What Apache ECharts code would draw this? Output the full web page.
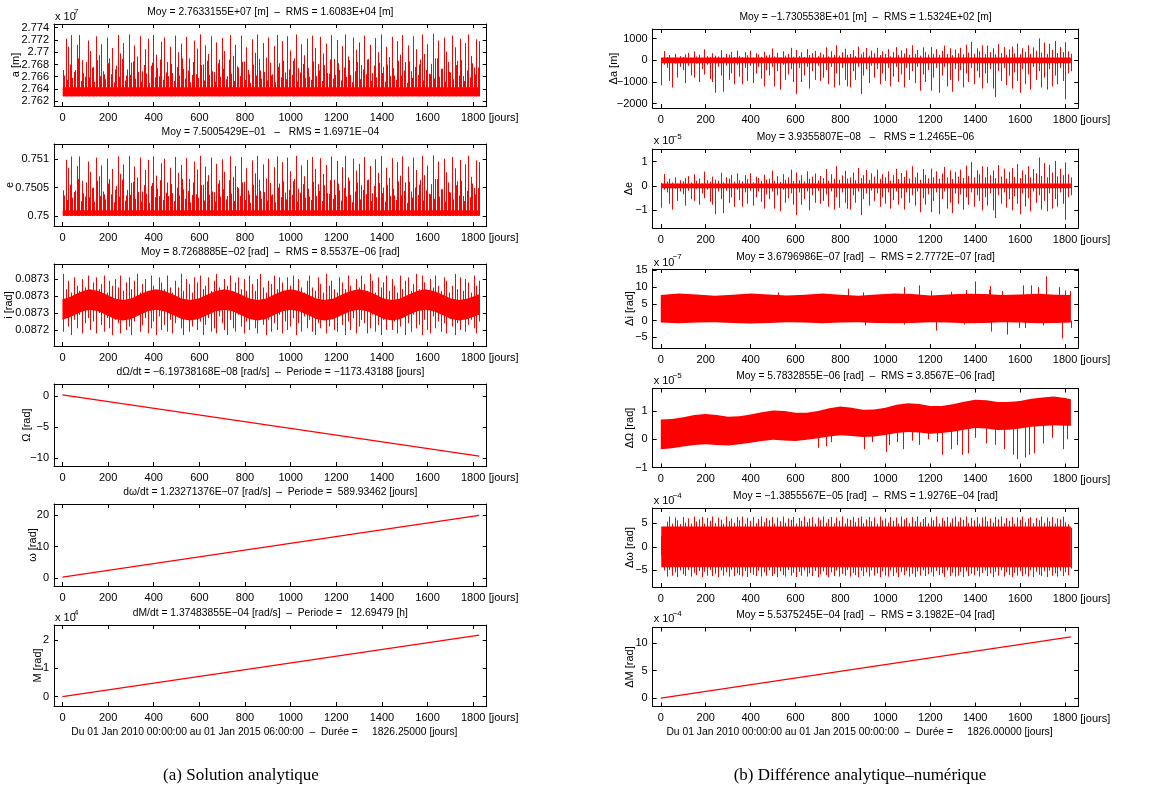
<!DOCTYPE html>
<html><head><meta charset="utf-8">
<script src="https://cdn.jsdelivr.net/npm/echarts@6/dist/echarts.min.js"></script>
<style>html,body{margin:0;padding:0;background:#fff}#c{width:1175px;height:799px}</style>
</head><body><div id="c"></div><script>
// ================= DATA =================
const xTickDays = [0,200,400,600,800,1000,1200,1400,1600,1800];
const xTickLabels = ['0','200','400','600','800','1000','1200','1400','1600','1800'];
// sampling grids (days) of the visible spikes
const spikeStart = 2, spikeStep = 12, spikeEnd = 1826;
const midStart = 8;

// ---- a [m] (x 1e7)
const aTicks = [2.762,2.764,2.766,2.768,2.770,2.772,2.774];
const aTickLabels = ['2.762','2.764','2.766','2.768','2.77','2.772','2.774'];
const aBase = 2.7628, aCoreTop = 2.7643;
const aPeaks = [
2.7671,2.7722,2.7709,2.7728,2.7668,2.7712,2.7728,2.7687,2.7660,2.7719,
2.7702,2.7676,2.7726,2.7695,2.7713,2.7664,2.7724,2.7690,2.7707,2.7672,
2.7728,2.7698,2.7715,2.7662,2.7729,2.7683,2.7711,2.7693,2.7726,2.7669,
2.7705,2.7722,2.7678,2.7728,2.7696,2.7661,2.7717,2.7724,2.7684,2.7709,
2.7666,2.7727,2.7700,2.7714,2.7673,2.7725,2.7690,2.7663,2.7719,2.7706,
2.7729,2.7680,2.7711,2.7697,2.7726,2.7668,2.7716,2.7688,2.7723,2.7702,
2.7661,2.7728,2.7694,2.7712,2.7675,2.7727,2.7685,2.7708,2.7664,2.7721,
2.7699,2.7729,2.7670,2.7715,2.7691,2.7724,2.7662,2.7710,2.7728,2.7682,
2.7718,2.7667,2.7726,2.7703,2.7686,2.7729,2.7674,2.7713,2.7695,2.7722,
2.7660,2.7727,2.7707,2.7681,2.7725,2.7698,2.7714,2.7665,2.7728,2.7689,
2.7720,2.7671,2.7710,2.7729,2.7693,2.7663,2.7724,2.7704,2.7716,2.7679,
2.7727,2.7688,2.7712,2.7666,2.7723,2.7700,2.7729,2.7676,2.7709,2.7692,
2.7725,2.7662,2.7718,2.7696,2.7728,2.7684,2.7711,2.7669,2.7726,2.7705,
2.7680,2.7729,2.7697,2.7713,2.7664,2.7730,2.7690,2.7719,2.7673,2.7724,
2.7701,2.7668,2.7727,2.7708,2.7686,2.7722,2.7661,2.7715,2.7729,2.7694,
2.7675,2.7721,2.7718];
const aMid = [
2.7662,2.7655,2.7680,2.7658,2.7671,2.7690,2.7653,2.7666,2.7684,2.7659,
2.7675,2.7652,2.7687,2.7661,2.7669,2.7656,2.7682,2.7664,2.7651,2.7678,
2.7660,2.7689,2.7654,2.7672,2.7663,2.7685,2.7657,2.7668,2.7652,2.7679,
2.7665,2.7650,2.7683,2.7659,2.7674,2.7688,2.7655,2.7667,2.7661,2.7681,
2.7653,2.7676,2.7662,2.7690,2.7657,2.7670,2.7651,2.7684,2.7664,2.7658,
2.7679,2.7654,2.7686,2.7663,2.7669,2.7652,2.7682,2.7660,2.7673,2.7656,
2.7688,2.7665,2.7653,2.7677,2.7661,2.7684,2.7655,2.7671,2.7650,2.7680,
2.7662,2.7689,2.7657,2.7668,2.7654,2.7683,2.7664,2.7651,2.7676,2.7659,
2.7686,2.7656,2.7672,2.7663,2.7690,2.7652,2.7667,2.7681,2.7658,2.7674,
2.7655,2.7685,2.7661,2.7670,2.7653,2.7679,2.7666,2.7688,2.7657,2.7663,
2.7682,2.7654,2.7675,2.7660,2.7687,2.7651,2.7669,2.7684,2.7656,2.7672,
2.7664,2.7689,2.7653,2.7678,2.7659,2.7683,2.7666,2.7652,2.7680,2.7661,
2.7674,2.7655,2.7686,2.7662,2.7670,2.7650,2.7685,2.7658,2.7676,2.7663,
2.7688,2.7654,2.7671,2.7665,2.7681,2.7657,2.7690,2.7660,2.7673,2.7652,
2.7684,2.7667,2.7656,2.7679,2.7662,2.7687,2.7653,2.7670,2.7659,2.7682,
2.7664,2.7675];

// ---- e
const eTicks = [0.75,0.7505,0.751];
const eTickLabels = ['0.75','0.7505','0.751'];
const eBase = 0.75, eCoreTop = 0.7501;
const ePeaks = [
0.75045,0.75099,0.75085,0.75105,0.75042,0.75088,0.75105,0.75062,0.75034,0.75096,
0.75078,0.75050,0.75103,0.75070,0.75089,0.75038,0.75101,0.75065,0.75083,0.75046,
0.75105,0.75074,0.75091,0.75036,0.75106,0.75058,0.75087,0.75068,0.75103,0.75043,
0.75081,0.75099,0.75053,0.75105,0.75071,0.75035,0.75093,0.75101,0.75059,0.75085,
0.75040,0.75104,0.75076,0.75090,0.75047,0.75102,0.75065,0.75037,0.75096,0.75082,
0.75106,0.75055,0.75087,0.75072,0.75103,0.75042,0.75092,0.75063,0.75100,0.75078,
0.75035,0.75105,0.75069,0.75088,0.75049,0.75104,0.75060,0.75084,0.75038,0.75098,
0.75075,0.75106,0.75044,0.75091,0.75066,0.75101,0.75036,0.75086,0.75105,0.75057,
0.75095,0.75041,0.75103,0.75079,0.75061,0.75106,0.75048,0.75089,0.75070,0.75099,
0.75034,0.75104,0.75083,0.75056,0.75102,0.75074,0.75090,0.75039,0.75105,0.75064,
0.75097,0.75045,0.75086,0.75106,0.75068,0.75037,0.75101,0.75080,0.75092,0.75054,
0.75104,0.75063,0.75088,0.75040,0.75100,0.75076,0.75106,0.75050,0.75085,0.75067,
0.75102,0.75036,0.75095,0.75071,0.75105,0.75059,0.75087,0.75043,0.75103,0.75081,
0.75055,0.75106,0.75072,0.75089,0.75038,0.75107,0.75065,0.75096,0.75047,0.75101,
0.75077,0.75042,0.75104,0.75084,0.75061,0.75099,0.75035,0.75091,0.75106,0.75069,
0.75049,0.75098,0.75095];
const eMid = [
0.75036,0.75028,0.75055,0.75032,0.75045,0.75065,0.75026,0.75040,0.75059,0.75033,
0.75049,0.75025,0.75062,0.75035,0.75043,0.75029,0.75057,0.75038,0.75024,0.75053,
0.75034,0.75064,0.75027,0.75046,0.75037,0.75060,0.75030,0.75042,0.75025,0.75054,
0.75039,0.75023,0.75058,0.75033,0.75048,0.75063,0.75028,0.75041,0.75035,0.75056,
0.75026,0.75050,0.75036,0.75065,0.75030,0.75044,0.75024,0.75059,0.75038,0.75032,
0.75054,0.75027,0.75061,0.75037,0.75043,0.75025,0.75057,0.75034,0.75047,0.75029,
0.75063,0.75039,0.75026,0.75051,0.75035,0.75059,0.75028,0.75045,0.75023,0.75055,
0.75036,0.75064,0.75030,0.75042,0.75027,0.75058,0.75038,0.75024,0.75050,0.75033,
0.75061,0.75029,0.75046,0.75037,0.75065,0.75025,0.75041,0.75056,0.75032,0.75048,
0.75028,0.75060,0.75035,0.75044,0.75026,0.75054,0.75040,0.75063,0.75030,0.75037,
0.75057,0.75027,0.75049,0.75034,0.75062,0.75024,0.75043,0.75059,0.75029,0.75046,
0.75038,0.75064,0.75026,0.75053,0.75033,0.75058,0.75040,0.75025,0.75055,0.75035,
0.75048,0.75028,0.75061,0.75036,0.75044,0.75023,0.75060,0.75032,0.75050,0.75037,
0.75063,0.75027,0.75045,0.75039,0.75056,0.75030,0.75065,0.75034,0.75047,0.75025,
0.75059,0.75041,0.75029,0.75054,0.75036,0.75062,0.75026,0.75044,0.75033,0.75057,
0.75038,0.75049];

// ---- i [rad]
const iTicks = [0.08725,0.08726,0.08727,0.08728];
const iTickLabels = ['0.0872','0.0873','0.0873','0.0873'];
const iBandDays = [0,30,60,90,120,157,193,229,265,301,338,374,410,447,485,522,560,597,635,672,710,746,782,819,855,892,928,964,1000,1037,1075,1112,1150,1187,1225,1262,1300,1336,1372,1408,1445,1481,1517,1554,1590,1627,1665,1702,1740,1776,1826];
const iBandTop = [0.0872681,0.0872693,0.0872712,0.087273,0.0872739,0.087273,0.0872708,0.0872685,0.0872676,0.0872685,0.0872708,0.087273,0.0872739,0.087273,0.0872708,0.0872685,0.0872676,0.0872685,0.0872708,0.087273,0.0872739,0.087273,0.0872708,0.0872685,0.0872676,0.0872685,0.0872708,0.087273,0.0872739,0.087273,0.0872708,0.0872685,0.0872676,0.0872685,0.0872708,0.087273,0.0872739,0.087273,0.0872708,0.0872685,0.0872676,0.0872685,0.0872708,0.087273,0.0872739,0.087273,0.0872708,0.0872685,0.0872676,0.0872685,0.087271];
const iBandBot = [0.0872561,0.0872573,0.0872592,0.087261,0.0872619,0.087261,0.0872588,0.0872565,0.0872556,0.0872565,0.0872588,0.087261,0.0872619,0.087261,0.0872588,0.0872565,0.0872556,0.0872565,0.0872588,0.087261,0.0872619,0.087261,0.0872588,0.0872565,0.0872556,0.0872565,0.0872588,0.087261,0.0872619,0.087261,0.0872588,0.0872565,0.0872556,0.0872565,0.0872588,0.087261,0.0872619,0.087261,0.0872588,0.0872565,0.0872556,0.0872565,0.0872588,0.087261,0.0872619,0.087261,0.0872588,0.0872565,0.0872556,0.0872565,0.087259];
const iHi = [
0.087283,0.087274,0.087279,0.087272,0.087281,0.087276,0.087273,0.08728,0.087275,0.087282,
0.087273,0.087278,0.087281,0.087274,0.087277,0.087282,0.087272,0.087279,0.087276,0.08728,
0.087275,0.087282,0.087273,0.087278,0.087281,0.087274,0.087279,0.087283,0.087272,0.087277,
0.08728,0.087273,0.087282,0.087276,0.087272,0.087281,0.087278,0.087274,0.087282,0.087275,
0.087272,0.087279,0.087275,0.087283,0.087273,0.08728,0.087277,0.087272,0.087281,0.087278,
0.087282,0.087274,0.087276,0.087281,0.087273,0.087279,0.087283,0.087275,0.087272,0.08728,
0.087276,0.087282,0.087272,0.087278,0.087281,0.087274,0.08728,0.087273,0.087282,0.087277,
0.087273,0.08728,0.087283,0.087275,0.087272,0.087279,0.087277,0.087282,0.087274,0.087281,
0.087278,0.087272,0.087281,0.087276,0.087282,0.087273,0.08728,0.087275,0.087272,0.087279,
0.087282,0.087275,0.087273,0.087281,0.087277,0.087272,0.087283,0.087276,0.087279,0.087274,
0.087272,0.087281,0.087278,0.087274,0.087282,0.087276,0.087272,0.08728,0.087275,0.087282,
0.087277,0.087273,0.087283,0.087279,0.087272,0.087281,0.087275,0.087278,0.087282,0.087273,
0.08728,0.087276,0.087272,0.087282,0.087274,0.087279,0.087281,0.087273,0.087277,0.087283,
0.087274,0.087282,0.087278,0.087272,0.08728,0.087275,0.087282,0.087276,0.087273,0.087281,
0.087279,0.087272,0.087276,0.087283,0.087274,0.087281,0.087273,0.08728,0.087278,0.087272,
0.087282,0.087276,0.087279];
const iLo = [
0.087249,0.087258,0.087252,0.087247,0.087256,0.087251,0.087259,0.087248,0.087254,0.087257,
0.08725,0.087255,0.087248,0.08726,0.087253,0.087249,0.087257,0.087251,0.087247,0.087256,
0.087254,0.087248,0.087258,0.08725,0.087252,0.087247,0.087255,0.087259,0.087249,0.087253,
0.087257,0.087248,0.087251,0.087255,0.087247,0.087258,0.08725,0.087253,0.087249,0.087256,
0.087248,0.087254,0.087259,0.087251,0.087247,0.087256,0.087249,0.087252,0.087258,0.08725,
0.087255,0.087247,0.087253,0.087257,0.087249,0.087251,0.087248,0.087258,0.087254,0.08725,
0.087247,0.087256,0.087251,0.087249,0.087259,0.087252,0.087248,0.087255,0.08725,0.087257,
0.087251,0.087248,0.087258,0.087253,0.087247,0.087256,0.087249,0.087254,0.08725,0.087259,
0.087248,0.087255,0.08725,0.087252,0.087257,0.087247,0.087254,0.087249,0.087258,0.087251,
0.087256,0.087249,0.087247,0.087254,0.087251,0.087259,0.087248,0.087252,0.087257,0.08725,
0.087249,0.087258,0.087253,0.087247,0.087255,0.08725,0.087257,0.087248,0.087252,0.087256,
0.087254,0.087248,0.087251,0.087259,0.087249,0.087253,0.087247,0.087256,0.08725,0.087258,
0.08725,0.087255,0.087248,0.087252,0.087257,0.087247,0.087254,0.087249,0.087259,0.087251,
0.087253,0.087247,0.087256,0.08725,0.087248,0.087258,0.087251,0.087255,0.087249,0.087254,
0.087248,0.087257,0.087252,0.087247,0.087254,0.08725,0.087259,0.087249,0.087253,0.087256,
0.087251,0.087248,0.087255];

// ---- Omega, omega, M (secular lines)
const OmTicks = [-10,-5,0], OmTickLabels = ['\u221210','\u22125','0'];
const OmLine = [[0,0.2],[1826.25,-9.65]];
const omTicks = [0,10,20], omTickLabels = ['0','10','20'];
const omLine = [[0,0.4],[1826.25,19.9]];
const MTicks = [0,1,2], MTickLabels = ['0','1','2'];
const MLine = [[0,0.0],[1826.25,2.17]];

// ---- Delta a [m]
const daTicks = [-2000,-1000,0,1000], daTickLabels = ['\u22122000','\u22121000','0','1000'];
const daCore = [-130, 130];
const daHi = [
100,430,150,250,120,300,90,200,160,280,
350,120,420,180,260,90,510,200,150,330,
220,180,470,130,300,260,390,150,450,200,
160,380,240,450,120,330,280,170,400,230,
260,550,180,350,140,420,220,300,580,170,
480,200,380,160,520,250,330,440,190,360,
280,600,180,420,250,700,220,370,540,260,
300,480,200,640,280,380,570,220,450,330,
580,250,420,300,520,180,380,610,240,460,
320,560,260,700,300,480,220,600,390,270,
620,300,520,260,440,680,300,560,240,500,
330,580,280,720,360,850,300,560,420,700,
300,680,380,560,280,750,330,620,260,500,
640,320,780,280,560,400,700,300,600,450,
1020,360,820,300,760,480,900,340,620,380,
840,420,300];
const daLo = [
-1150,-200,-350,-950,-1250,-150,-800,-300,-450,-1050,
-250,-700,-800,-150,-1000,-400,-650,-200,-850,-1000,
-1500,-300,-700,-1450,-250,-900,-600,-1100,-200,-750,
-1100,-350,-950,-250,-1050,-600,-300,-850,-1200,-450,
-700,-300,-1200,-500,-1350,-200,-900,-650,-400,-1000,
-1550,-350,-1000,-700,-300,-1300,-500,-900,-250,-950,
-800,-450,-1100,-300,-1250,-600,-1150,-350,-900,-1200,
-1250,-500,-900,-300,-1550,-700,-400,-1050,-250,-800,
-400,-1100,-600,-950,-350,-1200,-750,-300,-1000,-650,
-1250,-350,-900,-500,-1050,-300,-1400,-650,-1000,-450,
-1400,-800,-350,-1500,-700,-300,-1200,-900,-1450,-400,
-950,-450,-1250,-600,-1000,-350,-1100,-500,-800,-1300,
-600,-1050,-400,-1300,-1700,-500,-950,-350,-1150,-700,
-1300,-550,-950,-1500,-400,-1100,-650,-1350,-300,-900,
-500,-1250,-800,-1350,-400,-1200,-700,-1100,-350,-950,
-1800,-600,-500];

// ---- Delta e (x 1e-5)
const deTicks = [-1,0,1], deTickLabels = ['\u22121','0','1'];
const deCore = [-0.1, 0.1];
const deHi = [
0.12,0.49,0.17,0.29,0.14,0.35,0.10,0.23,0.18,0.32,
0.40,0.14,0.48,0.21,0.30,0.10,0.59,0.23,0.17,0.38,
0.25,0.21,0.54,0.15,0.35,0.30,0.45,0.17,0.52,0.23,
0.18,0.44,0.28,0.52,0.14,0.38,0.32,0.20,0.46,0.26,
0.30,0.63,0.21,0.40,0.16,0.48,0.25,0.35,0.67,0.20,
0.55,0.23,0.44,0.18,0.60,0.29,0.38,0.51,0.22,0.41,
0.32,0.69,0.21,0.48,0.29,0.81,0.25,0.43,0.62,0.30,
0.35,0.55,0.23,0.74,0.32,0.44,0.66,0.25,0.52,0.38,
0.67,0.29,0.48,0.35,0.60,0.21,0.44,0.70,0.28,0.53,
0.37,0.64,0.30,0.81,0.35,0.55,0.25,0.69,0.45,0.31,
0.71,0.35,0.60,0.30,0.51,0.78,0.35,0.64,0.28,0.58,
0.38,0.67,0.32,0.83,0.41,0.98,0.35,0.64,0.48,0.81,
0.35,0.78,0.44,0.64,0.32,0.86,0.38,0.71,0.30,0.58,
0.74,0.37,0.90,0.32,0.64,0.46,0.81,0.35,0.69,0.52,
1.17,0.41,0.94,0.35,0.87,0.55,1.03,0.39,0.71,0.44,
0.97,0.48,0.35];
const deLo = [
-0.90,-0.16,-0.27,-0.74,-0.98,-0.12,-0.62,-0.23,-0.35,-0.82,
-0.20,-0.55,-0.62,-0.12,-0.78,-0.31,-0.51,-0.16,-0.66,-0.78,
-1.17,-0.23,-0.55,-1.13,-0.20,-0.70,-0.47,-0.86,-0.16,-0.59,
-0.86,-0.27,-0.74,-0.20,-0.82,-0.47,-0.23,-0.66,-0.94,-0.35,
-0.55,-0.23,-0.94,-0.39,-1.05,-0.16,-0.70,-0.51,-0.31,-0.78,
-1.21,-0.27,-0.78,-0.55,-0.23,-1.01,-0.39,-0.70,-0.20,-0.74,
-0.62,-0.35,-0.86,-0.23,-0.98,-0.47,-0.90,-0.27,-0.70,-0.94,
-0.98,-0.39,-0.70,-0.23,-1.21,-0.55,-0.31,-0.82,-0.20,-0.62,
-0.31,-0.86,-0.47,-0.74,-0.27,-0.94,-0.59,-0.23,-0.78,-0.51,
-0.98,-0.27,-0.70,-0.39,-0.82,-0.23,-1.09,-0.51,-0.78,-0.35,
-1.09,-0.62,-0.27,-1.17,-0.55,-0.23,-0.94,-0.70,-1.13,-0.31,
-0.74,-0.35,-0.98,-0.47,-0.78,-0.27,-0.86,-0.39,-0.62,-1.01,
-0.47,-0.82,-0.31,-1.01,-1.33,-0.39,-0.74,-0.27,-0.90,-0.55,
-1.01,-0.43,-0.74,-1.17,-0.31,-0.86,-0.51,-1.05,-0.23,-0.70,
-0.39,-0.98,-0.62,-1.05,-0.31,-0.94,-0.55,-0.86,-0.27,-0.74,
-1.40,-0.47,-0.39];

// ---- Delta i (x 1e-7)
const diTicks = [-5,0,5,10,15], diTickLabels = ['\u22125','0','5','10','15'];
const diBandDays = [0,80,160,240,320,400,480,560,640,720,800,880,960,1040,1120,1200,1280,1360,1440,1520,1600,1680,1760,1826];
const diBandTop = [7.6,8.1,7.8,7.4,7.7,8.1,7.8,7.5,7.7,8.1,7.7,7.4,7.8,8.1,7.9,7.5,7.8,8.0,7.9,7.6,7.8,8.0,7.7,7.6];
const diBandBot = [-0.6,-0.8,-0.6,-0.5,-0.7,-0.9,-0.7,-0.5,-0.6,-0.8,-0.6,-0.5,-0.7,-0.8,-0.7,-0.5,-0.6,-0.8,-0.7,-0.5,-0.6,-0.8,-0.7,-0.6];
const diUpDays = [520,835,900,1085,1150,1205,1290,1360,1400,1460,1468,1520,1612,1650,1680,1715,1772,1800,1820];
const diUpVals = [8.4,9.5,8.4,10.0,10.5,8.9,8.6,9.1,11.7,9.2,10.3,8.8,10.5,10.5,10.0,13.2,10.0,9.0,8.8];
const diDownDays = [910,1085,1225,1350,1472,1540,1597,1622,1700,1785,1826];
const diDownVals = [-1.5,-1.2,-3.0,-1.2,-3.3,-4.2,-2.2,-2.2,-1.5,-5.3,-2.2];

// ---- Delta Omega (x 1e-5)
const dOTicks = [-1,0,1], dOTickLabels = ['\u22121','0','1'];
const dOBandDays = [0,50,100,150,200,250,300,350,400,450,500,550,600,650,700,750,800,850,900,950,1000,1050,1100,1150,1200,1250,1300,1350,1400,1450,1500,1550,1600,1650,1700,1750,1800,1826];
const dOBandTop = [0.70,0.72,0.78,0.86,0.90,0.86,0.80,0.82,0.88,0.96,1.02,1.00,0.94,0.94,1.00,1.10,1.16,1.12,1.05,1.06,1.12,1.22,1.28,1.25,1.18,1.18,1.24,1.33,1.40,1.38,1.32,1.32,1.36,1.44,1.48,1.52,1.46,1.42];
const dOBandBot = [-0.35,-0.32,-0.26,-0.20,-0.18,-0.20,-0.22,-0.18,-0.12,-0.06,-0.02,-0.04,-0.06,-0.02,0.04,0.10,0.14,0.12,0.08,0.10,0.15,0.22,0.26,0.24,0.20,0.22,0.27,0.34,0.40,0.38,0.33,0.34,0.38,0.44,0.47,0.50,0.48,0.48];
const dODownDays = [700,735,760,905,940,1005,1015,1050,1080,1120,1150,1190,1230,1250,1290,1320,1340,1370,1400,1450,1490,1530,1570,1588,1620,1640,1660,1700,1740,1790,1810];
const dODownVals = [-0.30,-0.25,-0.10,-0.35,-0.10,-0.45,-0.20,-0.10,-0.35,-0.05,-0.20,0.00,-0.10,-0.55,-0.35,-0.20,-0.55,-0.50,0.05,-0.15,-0.20,-0.35,-0.55,-0.70,-0.65,-0.55,-0.50,-0.15,0.05,-0.35,0.00];

// ---- Delta omega (x 1e-4)
const dwTicks = [-5,0,5], dwTickLabels = ['\u22125','0','5'];
const dwCore = [-4.3, 4.3];
const dwHi = [
2.2,4.0,5.3,6.4,4.9,6.2,5.6,4.8,6.3,5.1,
6.0,4.9,6.4,5.3,5.8,6.3,4.9,6.1,5.5,6.4,
5.0,6.2,5.7,4.9,6.4,5.4,6.0,5.1,6.3,5.6,
6.4,4.9,6.1,5.5,6.3,5.0,5.9,6.4,5.2,6.1,
5.6,6.3,4.9,6.2,5.4,6.4,5.1,6.0,5.7,6.3,
4.9,6.1,5.5,6.4,5.2,6.0,6.3,4.9,6.2,5.6,
6.4,5.1,5.9,6.3,5.0,6.2,5.5,6.4,4.9,6.0,
5.7,6.3,5.2,6.1,6.4,5.0,5.8,6.3,5.4,6.2,
4.9,6.4,5.6,6.0,5.1,6.3,5.5,6.2,4.9,6.4,
5.8,6.1,5.0,6.3,5.4,6.4,5.2,5.9,6.3,5.0,
6.2,5.6,6.4,4.9,6.1,5.5,6.3,5.1,6.0,6.4,
5.3,6.2,5.7,6.4,5.0,6.1,5.6,6.3,4.9,6.2,
6.4,5.4,6.0,5.1,6.3,5.8,6.4,5.0,6.1,5.5,
6.3,4.9,6.2,5.7,6.4,5.2,6.0,6.3,5.0,6.1,
5.6,6.4,5.1,6.2,5.4,6.3,4.9,6.0,5.8,6.4,
5.2,4.8,4.0];
const dwLo = [
-1.8,-5.0,-6.3,-4.9,-6.1,-5.4,-6.4,-5.0,-5.8,-6.2,
-4.9,-6.3,-5.5,-6.0,-5.1,-6.4,-5.3,-6.1,-4.9,-6.2,
-5.7,-6.4,-5.0,-6.1,-5.4,-6.3,-4.9,-6.2,-5.6,-6.0,
-6.3,-5.1,-6.4,-5.5,-5.9,-6.2,-5.0,-6.3,-5.4,-6.1,
-5.0,-6.2,-5.7,-6.4,-5.2,-6.0,-6.3,-4.9,-6.1,-5.5,
-6.4,-5.3,-6.1,-5.0,-6.3,-5.6,-6.2,-5.1,-6.4,-5.8,
-5.2,-6.0,-6.4,-5.4,-6.2,-5.0,-6.3,-5.7,-6.1,-4.9,
-6.3,-5.5,-6.0,-6.4,-5.1,-6.2,-5.4,-6.3,-5.0,-6.1,
-5.6,-6.4,-5.2,-6.1,-6.3,-5.0,-6.2,-5.5,-6.4,-5.3,
-6.0,-5.1,-6.3,-5.7,-6.4,-5.2,-6.1,-5.0,-6.2,-5.8,
-5.4,-6.3,-5.1,-6.0,-5.6,-6.4,-5.0,-6.2,-5.5,-6.3,
-6.1,-5.3,-6.4,-5.2,-6.2,-5.7,-6.0,-5.1,-6.3,-5.5,
-5.0,-6.2,-5.6,-6.4,-5.3,-6.1,-5.0,-6.3,-5.4,-6.0,
-6.4,-5.5,-6.1,-5.1,-6.2,-5.8,-6.3,-5.0,-6.4,-5.3,
-5.9,-6.2,-5.2,-6.4,-5.0,-6.1,-5.6,-6.3,-5.1,-6.2,
-5.4,-6.0,-4.6];

// ---- Delta M (x 1e-4)
const dMTicks = [0,5,10], dMTickLabels = ['0','5','10'];
const dMLine = [[0,0.0],[1826.25,11.1]];

// ================= RENDERING =================
const RED = '#ff0000';
const FONT = '"Liberation Sans", Arial, Helvetica, sans-serif';
const FS = 11, TFS = 10.3;
const spikeDays = [], midDays = [];
for (let d = spikeStart; d <= spikeEnd; d += spikeStep) spikeDays.push(d);
for (let d = midStart; d <= spikeEnd; d += spikeStep) midDays.push(d);

const COLS = [{left:54, width:432.7, xr:[-37,1859]}, {left:652.7, width:425.6, xr:[-36,1859]}];
const LTOP = [24,144,264,384,504,625], LH = [82,82,82,82,82,81];
const RTOP = [29,149,269,388.5,508,627.5], RH = 79;

function bandSeries(days, bot, top) {
  return {type:'custom', silent:true, data:[[days[0], bot[0]]],
    renderItem: (p, api) => {
      const pts = [];
      for (let i = 0; i < days.length; i++) pts.push(api.coord([days[i], top[i]]));
      for (let i = days.length - 1; i >= 0; i--) pts.push(api.coord([days[i], bot[i]]));
      return {type:'polygon', shape:{points:pts}, style:{fill:RED}};
    }};
}
function spikeSeries(items) {
  return {type:'custom', silent:true, data:items, encode:{x:0, y:[1,2]},
    renderItem: (p, api) => {
      const a = api.coord([api.value(0), api.value(1)]);
      const b = api.coord([api.value(0), api.value(2)]);
      const x = Math.round(a[0]) + 0.5;
      return {type:'line', shape:{x1:x, y1:a[1], x2:x, y2:b[1]}, style:{stroke:RED, lineWidth:1}};
    }};
}
function lineSeries(pts) {
  return {type:'line', data:pts, showSymbol:false, silent:true, lineStyle:{color:RED, width:1.2}};
}

const panels = [
  {c:0, r:0, yr:[2.76123,2.7746], t:aTicks, tl:aTickLabels, title:'Moy = 2.7633155E+07 [m]  \u2013  RMS = 1.6083E+04 [m]',
   yl:'a [m]', ylx:16, mult:'7', multY:[17,12],
   series:[bandSeries([1,1826], [aBase,aBase], [aCoreTop,aCoreTop]),
           spikeSeries(midDays.map((d,i)=>[d,aBase,aMid[i]])),
           spikeSeries(spikeDays.map((d,i)=>[d,aBase,aPeaks[i]]))]},
  {c:0, r:1, yr:[0.74982,0.75127], t:eTicks, tl:eTickLabels, title:'Moy = 7.5005429E\u221201   \u2013   RMS = 1.6971E\u221204',
   yl:'e', ylx:10,
   series:[bandSeries([1,1826], [eBase,eBase], [eCoreTop,eCoreTop]),
           spikeSeries(midDays.map((d,i)=>[d,eBase,eMid[i]])),
           spikeSeries(spikeDays.map((d,i)=>[d,eBase,ePeaks[i]]))]},
  {c:0, r:2, yr:[0.0872406,0.0872888], t:iTicks, tl:iTickLabels, title:'Moy = 8.7268885E\u221202 [rad]  \u2013  RMS = 8.5537E\u221206 [rad]',
   yl:'i [rad]', ylx:9,
   series:[bandSeries(iBandDays, iBandBot, iBandTop), spikeSeries(spikeDays.map((d,i)=>[d,iLo[i],iHi[i]]))]},
  {c:0, r:3, yr:[-11.24,1.94], t:OmTicks, tl:OmTickLabels, title:'d\u03A9/dt = \u22126.19738168E\u221208 [rad/s]  \u2013  Periode = \u22121173.43188 [jours]',
   yl:'\u03A9 [rad]', ylx:27, series:[lineSeries(OmLine)]},
  {c:0, r:4, yr:[-2.43,23.5], t:omTicks, tl:omTickLabels, title:'d\u03C9/dt = 1.23271376E\u221207 [rad/s]  \u2013  Periode =  589.93462 [jours]',
   yl:'\u03C9 [rad]', ylx:33, series:[lineSeries(omLine)]},
  {c:0, r:5, yr:[-0.33,2.53], t:MTicks, tl:MTickLabels, title:'dM/dt = 1.37483855E\u221204 [rad/s]  \u2013  Periode =   12.69479 [h]',
   yl:'M [rad]', ylx:38, mult:'4', multY:[618,613], series:[lineSeries(MLine)],
   foot:'Du 01 Jan 2010 00:00:00 au 01 Jan 2015 06:00:00  \u2013  Dur\u00e9e =     1826.25000 [jours]'},

  {c:1, r:0, yr:[-2200,1450], t:daTicks, tl:daTickLabels, title:'Moy = \u22121.7305538E+01 [m]  \u2013  RMS = 1.5324E+02 [m]',
   yl:'\u0394a [m]', ylx:614,
   series:[bandSeries([1,1826],[daCore[0],daCore[0]],[daCore[1],daCore[1]]), spikeSeries(spikeDays.map((d,i)=>[d,daLo[i],daHi[i]]))]},
  {c:1, r:1, yr:[-1.74,1.52], t:deTicks, tl:deTickLabels, title:'Moy = 3.9355807E\u221208   \u2013   RMS = 1.2465E\u221206',
   yl:'\u0394e', ylx:629, mult:'\u22125', multY:[141,136.5],
   series:[bandSeries([1,1826],[deCore[0],deCore[0]],[deCore[1],deCore[1]]), spikeSeries(spikeDays.map((d,i)=>[d,deLo[i],deHi[i]]))]},
  {c:1, r:2, yr:[-8.2,15.4], t:diTicks, tl:diTickLabels, title:'Moy = 3.6796986E\u221207 [rad]  \u2013  RMS = 2.7772E\u221207 [rad]',
   yl:'\u0394i [rad]', ylx:630, mult:'\u22127', multY:[262.5,257],
   series:[bandSeries(diBandDays, diBandBot, diBandTop),
           spikeSeries(diUpDays.map((d,i)=>[d,7,diUpVals[i]]).concat(diDownDays.map((d,i)=>[d,diDownVals[i],0])))]},
  {c:1, r:3, yr:[-1.0,1.8], t:dOTicks, tl:dOTickLabels, title:'Moy = 5.7832855E\u221206 [rad]  \u2013  RMS = 3.8567E\u221206 [rad]',
   yl:'\u0394\u03A9 [rad]', ylx:630, mult:'\u22125', multY:[381,375.5],
   series:[bandSeries(dOBandDays, dOBandBot, dOBandTop), spikeSeries(dODownDays.map((d,i)=>[d,dODownVals[i],0.6]))]},
  {c:1, r:4, yr:[-8.5,8.2], t:dwTicks, tl:dwTickLabels, title:'Moy = \u22121.3855567E\u221205 [rad]  \u2013  RMS = 1.9276E\u221204 [rad]',
   yl:'\u0394\u03C9 [rad]', ylx:630, mult:'\u22124', multY:[501,495.5],
   series:[bandSeries([2,1826],[dwCore[0],dwCore[0]],[dwCore[1],dwCore[1]]), spikeSeries(spikeDays.map((d,i)=>[d,dwLo[i],dwHi[i]]))]},
  {c:1, r:5, yr:[-1.5,12.8], t:dMTicks, tl:dMTickLabels, title:'Moy = 5.5375245E\u221204 [rad]  \u2013  RMS = 3.1982E\u221204 [rad]',
   yl:'\u0394M [rad]', ylx:630, mult:'\u22124', multY:[619,613.5], series:[lineSeries(dMLine)],
   foot:'Du 01 Jan 2010 00:00:00 au 01 Jan 2015 00:00:00  \u2013  Dur\u00e9e =     1826.00000 [jours]'}
];

const grid = [], xAxis = [], yAxis = [], series = [], graphic = [];
function txt(x, y, text, o) {
  o = o || {};
  graphic.push({type:'text', x, y, rotation:o.rot||0, silent:true,
    style:{text, fill:'#000', font:(o.fs||FS)+'px '+(o.ff||FONT), textAlign:o.align||'center', textVerticalAlign:'middle'}});
}
const tickLine = {color:'#000', width:1};
panels.forEach((p, k) => {
  const col = COLS[p.c];
  const top = p.c === 0 ? LTOP[p.r] : RTOP[p.r];
  const h = p.c === 0 ? LH[p.r] : RH;
  grid.push({left:col.left, top, width:col.width, height:h, show:false, containLabel:false});
  const gx = {gridIndex:k, type:'value', min:col.xr[0], max:col.xr[1], splitLine:{show:false},
    axisLine:{show:true, onZero:false, lineStyle:tickLine}};
  xAxis.push(Object.assign({}, gx, {position:'bottom',
    axisTick:{show:true, inside:true, length:4, customValues:xTickDays, lineStyle:tickLine},
    axisLabel:{show:true, customValues:xTickDays, color:'#000', fontSize:FS, fontFamily:FONT, margin:6,
      formatter:v => xTickLabels[xTickDays.indexOf(v)]}}));
  xAxis.push(Object.assign({}, gx, {position:'top',
    axisTick:{show:true, inside:true, length:4, customValues:xTickDays, lineStyle:tickLine},
    axisLabel:{show:false}}));
  const gy = {gridIndex:k, type:'value', min:p.yr[0], max:p.yr[1], splitLine:{show:false},
    axisLine:{show:true, onZero:false, lineStyle:tickLine}};
  yAxis.push(Object.assign({}, gy, {position:'left',
    axisTick:{show:true, inside:true, length:4, customValues:p.t, lineStyle:tickLine},
    axisLabel:{show:true, customValues:p.t, color:'#000', fontSize:FS, fontFamily:FONT, margin:5,
      formatter:v => { let bi = 0, bd = Infinity; p.t.forEach((tv, j) => { const dd = Math.abs(tv - v); if (dd < bd) { bd = dd; bi = j; } }); return p.tl[bi]; }}}));
  yAxis.push(Object.assign({}, gy, {position:'right',
    axisTick:{show:true, inside:true, length:4, customValues:p.t, lineStyle:tickLine},
    axisLabel:{show:false}}));
  p.series.forEach(s => { s.xAxisIndex = 2*k; s.yAxisIndex = 2*k; s.animation = false; series.push(s); });
  const cx = col.left + col.width / 2;
  txt(cx, top - 12, p.title, {fs:TFS});
  txt(col.left + col.width + 2, top + h + 12, '[jours]', {align:'left'});
  txt(p.ylx, top + h / 2, p.yl, {rot:Math.PI/2});
  if (p.mult) {
    txt(col.left + 1, p.multY[0], 'x 10', {align:'left'});
    txt(col.left + 20, p.multY[1], p.mult, {align:'left', fs:8});
  }
  if (p.foot) txt(cx - 6, top + h + 26, p.foot, {fs:TFS});
});
txt(241, 776, '(a) Solution analytique', {fs:17, ff:'"Liberation Serif", "Times New Roman", serif'});
txt(860, 776, '(b) Diff\u00e9rence analytique\u2013num\u00e9rique', {fs:17, ff:'"Liberation Serif", "Times New Roman", serif'});

const chart = echarts.init(document.getElementById('c'), null, {renderer:'canvas'});
chart.setOption({animation:false, backgroundColor:'#fff', grid, xAxis, yAxis, series, graphic});
</script></body></html>
